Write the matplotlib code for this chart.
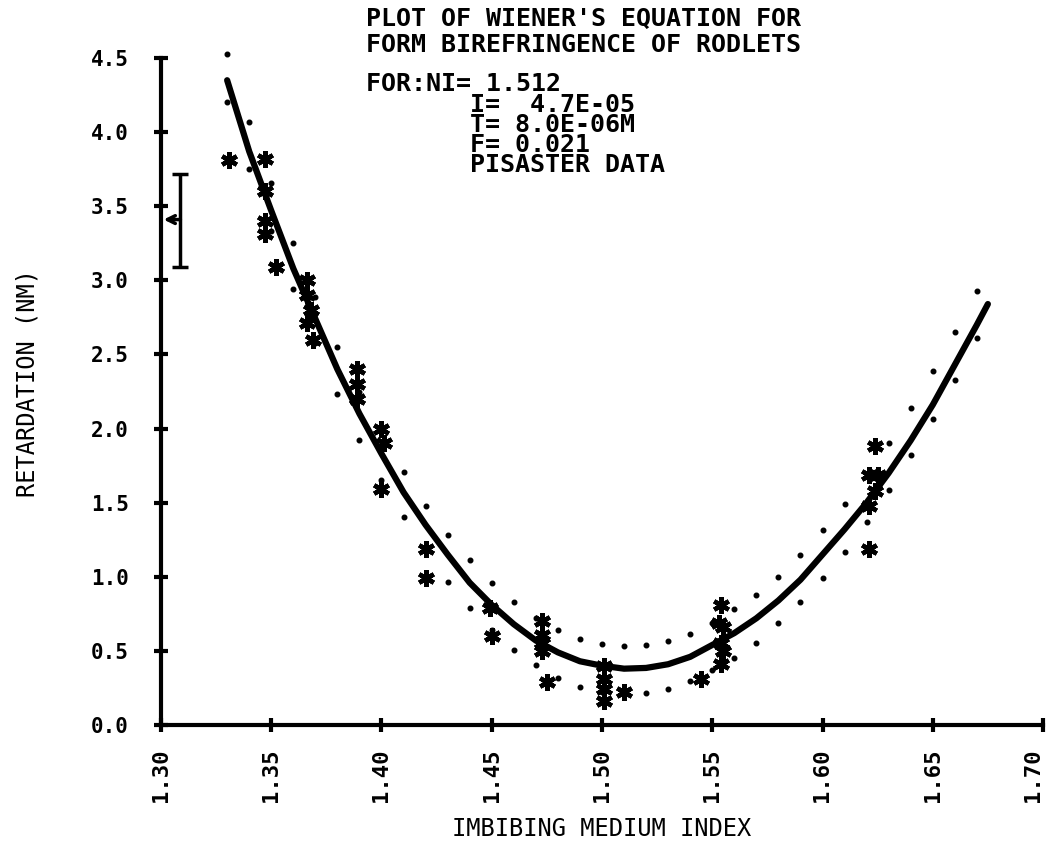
import matplotlib.pyplot as plt

# theoretical curve (Wiener's equation)
curve_x = [1.330, 1.340, 1.350, 1.360, 1.370, 1.380, 1.390, 1.400, 1.410, 1.420,
           1.430, 1.440, 1.450, 1.460, 1.470, 1.480, 1.490, 1.500, 1.510, 1.520,
           1.530, 1.540, 1.550, 1.560, 1.570, 1.580, 1.590, 1.600, 1.610, 1.620,
           1.630, 1.640, 1.650, 1.660, 1.670, 1.675]
curve_y = [4.35, 3.87, 3.47, 3.08, 2.74, 2.40, 2.10, 1.83, 1.57, 1.35,
           1.15, 0.96, 0.81, 0.68, 0.57, 0.49, 0.43, 0.40, 0.38, 0.385,
           0.41, 0.46, 0.54, 0.62, 0.72, 0.84, 0.98, 1.15, 1.32, 1.50,
           1.70, 1.92, 2.16, 2.43, 2.70, 2.84]

# dotted limits either side of the curve
band_x = [1.33, 1.34, 1.35, 1.36, 1.37, 1.38, 1.39, 1.40, 1.41, 1.42,
          1.43, 1.44, 1.45, 1.46, 1.47, 1.48, 1.49, 1.50, 1.51, 1.52,
          1.53, 1.54, 1.55, 1.56, 1.57, 1.58, 1.59, 1.60, 1.61, 1.62,
          1.63, 1.64, 1.65, 1.66, 1.67]
upper_y = [4.53, 4.07, 3.66, 3.25, 2.89, 2.55, 2.25, 1.98, 1.71, 1.48,
           1.28, 1.11, 0.955, 0.83, 0.72, 0.64, 0.58, 0.545, 0.534, 0.538,
           0.565, 0.617, 0.69, 0.78, 0.876, 1.00, 1.147, 1.315, 1.49, 1.69,
           1.90, 2.14, 2.39, 2.65, 2.93]
lower_y = [4.20, 3.75, 3.33, 2.94, 2.58, 2.23, 1.92, 1.65, 1.40, 1.18,
           0.966, 0.79, 0.64, 0.507, 0.405, 0.316, 0.257, 0.225, 0.21, 0.218,
           0.245, 0.30, 0.37, 0.455, 0.556, 0.685, 0.827, 0.995, 1.17, 1.367,
           1.585, 1.82, 2.065, 2.33, 2.61]

# Pisaster measurements
data_x = [1.331, 1.347, 1.347, 1.347, 1.347, 1.352,
          1.366, 1.366, 1.368, 1.366, 1.369,
          1.389, 1.389, 1.389, 1.400, 1.401, 1.400,
          1.420, 1.420, 1.449, 1.450,
          1.473, 1.473, 1.473, 1.473, 1.475,
          1.501, 1.501, 1.501, 1.501, 1.510, 1.545,
          1.554, 1.553, 1.555, 1.554, 1.555, 1.554,
          1.624, 1.621, 1.625, 1.624, 1.621, 1.621]
data_y = [3.81, 3.82, 3.60, 3.40, 3.31, 3.09,
          3.00, 2.90, 2.80, 2.71, 2.60,
          2.40, 2.30, 2.20, 2.00, 1.90, 1.59,
          1.19, 0.99, 0.79, 0.60,
          0.70, 0.61, 0.55, 0.50, 0.29,
          0.40, 0.31, 0.24, 0.16, 0.225, 0.31,
          0.81, 0.69, 0.66, 0.55, 0.50, 0.41,
          1.885, 1.69, 1.69, 1.58, 1.48, 1.19]

# error bar in the corner
err_x = 1.3088
err_lo = 3.09
err_hi = 3.72
err_mark = 3.41

x_ticks = [1.30, 1.35, 1.40, 1.45, 1.50, 1.55, 1.60, 1.65, 1.70]
x_labels = ['1.30', '1.35', '1.40', '1.45', '1.50', '1.55', '1.60', '1.65', '1.70']
y_ticks = [0.0, 0.5, 1.0, 1.5, 2.0, 2.5, 3.0, 3.5, 4.0, 4.5]
y_labels = ['0.0', '0.5', '1.0', '1.5', '2.0', '2.5', '3.0', '3.5', '4.0', '4.5']

title_text = "PLOT OF WIENER'S EQUATION FOR\nFORM BIREFRINGENCE OF RODLETS"
for_line = "FOR:NI= 1.512"
param_text = "I=  4.7E-05\nT= 8.0E-06M\nF= 0.021\nPISASTER DATA"

plt.rcParams['font.family'] = ['DejaVu Sans Mono']
plt.rcParams['font.weight'] = 'bold'

W, H = 1050, 849
fig = plt.figure(figsize=(W / 100, H / 100), dpi=100)
ax = fig.add_axes([161 / W, 1 - 725 / H, 882 / W, 667 / H])

ax.plot(curve_x, curve_y, color='black', lw=4.5, solid_capstyle='round', clip_on=False, zorder=3)
ax.plot(band_x, upper_y, ls='none', marker='o', ms=3.3, color='black', clip_on=False)
ax.plot(band_x, lower_y, ls='none', marker='o', ms=3.3, color='black', clip_on=False)
ax.plot(data_x, data_y, ls='none', marker=(6, 2, 0), ms=12, mew=3.2, color='black',
        clip_on=False, zorder=4)

ax.errorbar([err_x], [(err_lo + err_hi) / 2], yerr=[[(err_hi - err_lo) / 2]], fmt='none',
            ecolor='black', elinewidth=2.5, capsize=6, capthick=2.5)
ax.annotate('', xy=(1.3012, err_mark), xytext=(err_x, err_mark),
            arrowprops=dict(arrowstyle='->', lw=2.5, color='black', mutation_scale=14,
                            shrinkA=0, shrinkB=0))

ax.set_xlim(1.30, 1.70)
ax.set_ylim(0, 4.5)
for side in ['top', 'right']:
    ax.spines[side].set_visible(False)
for side in ['left', 'bottom']:
    ax.spines[side].set_linewidth(3)

ax.set_xticks(x_ticks)
ax.set_xticklabels(x_labels, rotation=90, fontsize=16)
ax.get_xticklabels()[-1].set_ha('right')
ax.set_yticks(y_ticks)
ax.set_yticklabels(y_labels, fontsize=15)
ax.tick_params(direction='inout', length=10, width=3)
ax.tick_params(axis='x', pad=12)
ax.tick_params(axis='y', pad=18)

ax.set_xlabel('IMBIBING MEDIUM INDEX', fontsize=17)
ax.xaxis.set_label_coords(0.5, -0.138)
ax.set_ylabel('RETARDATION (NM)', fontsize=17)
ax.yaxis.set_label_coords(-0.138, 0.513)

fig.text(366 / W, 1 - 32 / H, title_text, fontsize=18, va='center', ha='left', linespacing=1.1)
fig.text(366 / W, 1 - 84 / H, for_line, fontsize=18, va='center', ha='left')
fig.text(470 / W, 1 - 135 / H, param_text, fontsize=18, va='center', ha='left', linespacing=0.8)

fig.savefig('out.png', dpi=100)
